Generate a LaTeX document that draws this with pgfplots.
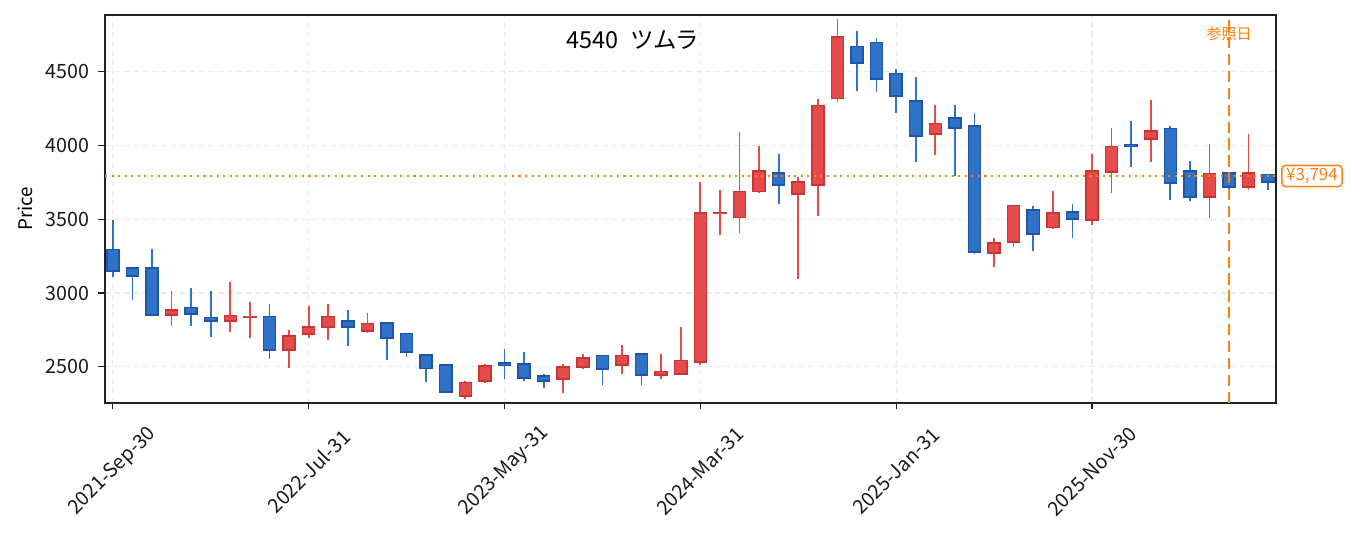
\documentclass[border=0pt]{standalone}
\usepackage{fontspec}
\setmainfont{Noto Sans CJK JP}
\usepackage{pgfplots}
\usepackage{pgfplotstable}
\pgfplotsset{compat=1.18}

\definecolor{upfill}{HTML}{E64B4B}
\definecolor{upedge}{HTML}{CC3434}
\definecolor{dnfill}{HTML}{2E73C7}
\definecolor{dnedge}{HTML}{1F54A6}
\definecolor{refor}{HTML}{FF7F0E}
\definecolor{gridc}{HTML}{EBEBEB}
\definecolor{spine}{HTML}{222222}

% rising candles (close > open)
\pgfplotstableread{
x o h l c
3 2850 3011 2778 2886
6 2810 3074 2737 2848
7 2837 2936 2697 2841
9 2613 2749 2493 2710
10 2721 2911 2697 2771
11 2769 2925 2681 2841
13 2742 2864 2726 2792
18 2301 2403 2285 2392
19 2403 2518 2387 2505
23 2416 2516 2324 2500
24 2498 2590 2482 2561
26 2511 2651 2453 2575
28 2444 2584 2414 2468
29 2450 2767 2450 2541
30 2532 3750 2509 3544
31 3540 3702 3393 3546
32 3512 4089 3409 3687
33 3689 3996 3675 3829
35 3671 3784 3097 3754
36 3732 4313 3521 4270
37 4319 4857 4297 4737
42 4077 4272 3937 4148
45 3271 3370 3178 3338
46 3345 3592 3314 3592
48 3445 3691 3436 3544
50 3494 3946 3458 3829
51 3820 4116 3680 3992
53 4044 4306 3890 4100
56 3650 4010 3510 3809
58 3720 4077 3696 3815
}\upT

% falling candles (close < open)
\pgfplotstableread{
x o h l c
0 3296 3494 3110 3149
1 3171 3171 2954 3115
2 3171 3298 2850 2850
4 2902 3033 2778 2857
5 2834 3011 2703 2810
8 2841 2925 2554 2613
12 2812 2884 2642 2769
14 2798 2807 2547 2694
15 2724 2724 2568 2599
16 2579 2590 2398 2489
17 2511 2511 2328 2328
20 2527 2618 2414 2511
21 2520 2597 2407 2423
22 2439 2448 2358 2405
25 2575 2575 2378 2484
27 2588 2588 2378 2444
34 3815 3942 3605 3732
38 4670 4776 4371 4561
39 4697 4726 4364 4450
40 4487 4516 4222 4335
41 4303 4462 3890 4064
43 4188 4272 3793 4120
44 4134 4218 3262 3277
47 3564 3587 3286 3399
49 3551 3603 3375 3501
52 4003 4166 3856 3998
54 4114 4134 3632 3745
55 3829 3892 3625 3650
57 3815 3815 3680 3720
59 3802 3802 3698 3752
}\dnT

\pgfplotsset{
  wick/.style={draw=none, mark=none, forget plot,
    error bars/.cd, y dir=plus, y explicit, error mark=none,
    error bar style={draw=#1, line width=0.9pt}},
  body/.style 2 args={draw=none, mark=none, forget plot,
    error bars/.cd, y dir=plus, y explicit, error mark=none,
    error bar style={draw=#1, line width=#2}},
}

\begin{document}
\begin{tikzpicture}
\path (-56.0pt,-69.5pt) rectangle (666.6pt,214.8pt);
\begin{axis}[
  at={(0,0)}, anchor=south west,
  width=624.5pt, height=206.8pt, scale only axis,
  xmin=-0.4, xmax=59.4, ymin=2256, ymax=4885,
  clip=false,
  xtick={0,10,20,30,40,50},
  xticklabels={2021-Sep-30,2022-Jul-31,2023-May-31,2024-Mar-31,2025-Jan-31,2025-Nov-30},
  ytick={2500,3000,3500,4000,4500},
  tick align=outside, tick pos=left,
  major tick length=3.5pt,
  every tick/.style={line width=0.6pt, spine},
  axis line style={line width=0.9pt, spine},
  grid=major,
  major grid style={dash pattern=on 3.2pt off 1.8pt, line width=0.6pt, gridc},
  /pgf/number format/assume math mode=true,
  /pgf/number format/set thousands separator={},
  ticklabel style={font=\fontsize{10.5}{12}\selectfont, text=black!90},
  yticklabel style={xshift=-1.5pt},
  xticklabel style={anchor=center, yshift=-33pt, rotate=45},
  ylabel={Price},
  ylabel style={at={(axis description cs:-0.0684,0.5)}, anchor=center, font=\fontsize{10}{12}\selectfont},
]
% wicks
\addplot[wick=upfill] table[x=x, y=l, y error expr=\thisrow{h}-\thisrow{l}] {\upT};
\addplot[wick=dnfill] table[x=x, y=l, y error expr=\thisrow{h}-\thisrow{l}] {\dnT};
% body outlines
\addplot[body={upedge}{7.25pt}] table[x=x, y expr=\thisrow{o}-5, y error expr=\thisrow{c}-\thisrow{o}+10] {\upT};
\addplot[body={dnedge}{7.25pt}] table[x=x, y expr=\thisrow{c}-5, y error expr=\thisrow{o}-\thisrow{c}+10] {\dnT};
% body fills
\addplot[body={upfill}{5.65pt}] table[x=x, y expr=\thisrow{o}+5, y error expr=\thisrow{c}-\thisrow{o}-10] {\upT};
\addplot[body={dnfill}{5.65pt}] table[x=x, y expr=\thisrow{c}+5, y error expr=\thisrow{o}-\thisrow{c}-10] {\dnT};
% reference lines
\addplot[refor, line width=1.1pt, dash pattern=on 1.1pt off 2.4pt] coordinates {(-0.4,3794) (59.4,3794)};
\addplot[refor, line width=1.4pt, dash pattern=on 6pt off 3pt] coordinates {(57,2256) (57,4885)};
\node[font=\fontsize{12.5}{14}\selectfont, text=black] at (axis cs:26.56,4715) {4540\hspace{0.5em}ツムラ};
\node[font=\fontsize{8}{9}\selectfont, text=refor] at (axis cs:57,4756) {参照日};
\node[anchor=west, draw=refor, fill=white, rounded corners=2pt, line width=0.8pt, text=refor,
      font=\fontsize{9}{10}\selectfont, inner xsep=2.3pt, inner ysep=0pt, minimum height=11.3pt]
  at (axis cs:59.4,3794) [xshift=2.7pt] {¥3,794};
\end{axis}
\end{tikzpicture}
\end{document}
